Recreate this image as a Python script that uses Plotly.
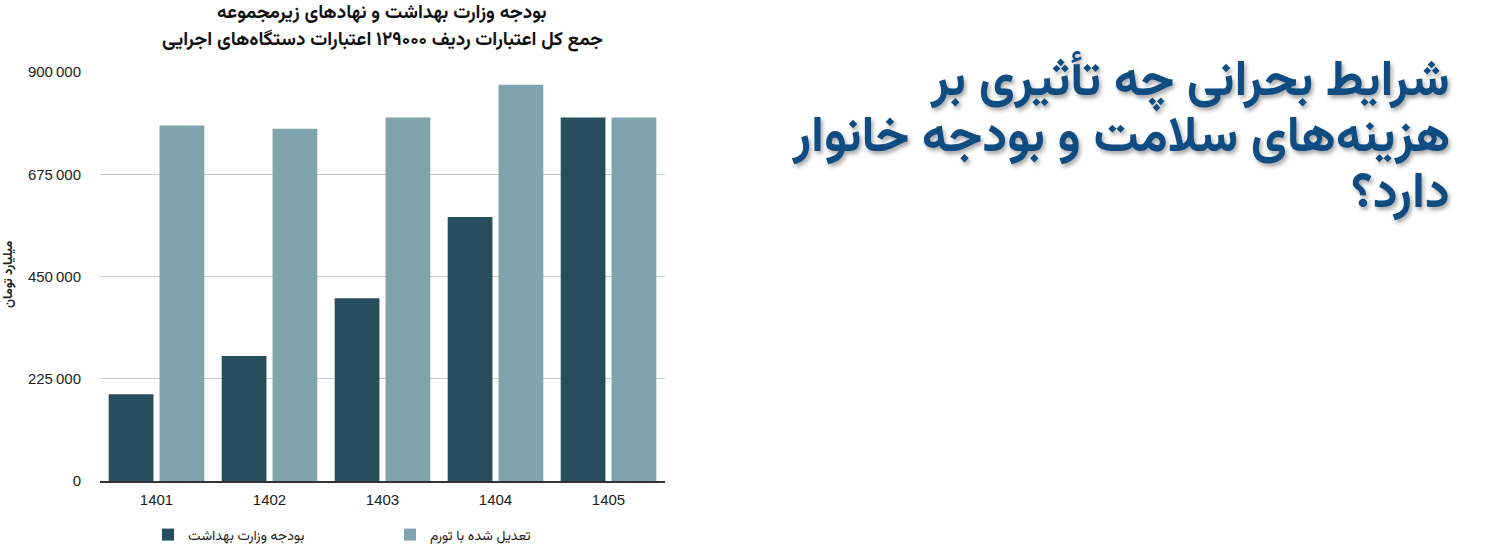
import plotly.graph_objects as go

years = ["1401", "1402", "1403", "1404", "1405"]
budget = [191000, 275000, 402000, 581000, 800000]
adjusted = [782000, 775000, 800000, 872000, 800000]
series_names = ["بودجه وزارت بهداشت", "تعدیل شده با تورم"]
tick_vals = [0, 225000, 450000, 675000, 900000]
tick_text = ["0", "225\u2009000", "450\u2009000", "675\u2009000", "900\u2009000"]
title_lines = ["بودجه وزارت بهداشت و نهادهای زیرمجموعه",
               "جمع کل اعتبارات ردیف ۱۲۹۰۰۰ اعتبارات دستگاه‌های اجرایی"]
y_title = "میلیارد تومان"
headline_lines = ["شرایط بحرانی چه تأثیری بر", "هزینه‌های سلامت و بودجه خانوار", "دارد؟"]

FA = "Vazirmatn, 'Noto Sans Arabic', 'DejaVu Sans', sans-serif"
LAT = "'Liberation Sans', Arial, sans-serif"

W, H = 1500, 550
L, R, T, B = 100, 835, 72, 69
PH = H - T - B


def py(ypix):
    return (H - B - ypix) / PH


def px(xpix):
    return (xpix - L) / (W - L - R)


fig = go.Figure()
fig.add_trace(go.Bar(x=years, y=budget, name=series_names[0], marker_color="#274e5c",
                     marker_line_width=0))
fig.add_trace(go.Bar(x=years, y=adjusted, name=series_names[1], marker_color="#80a4ae",
                     marker_line_width=0))

annotations = []
for txt, yp in zip(title_lines, [13, 40]):
    annotations.append(dict(text=txt, xref="paper", yref="paper", x=px(382), y=py(yp),
                            xanchor="center", yanchor="middle", showarrow=False,
                            font=dict(family=FA, size=19, color="#111", weight="bold")))
for txt, yp in zip(headline_lines, [83, 139, 195]):
    annotations.append(dict(text=txt, xref="paper", yref="paper", x=px(1452), y=py(yp),
                            xanchor="right", yanchor="middle", showarrow=False,
                            font=dict(family=FA, size=50, color="#0f4c81", weight="bold",
                                      shadow="2px 3px 4px rgba(0,0,0,0.35)")))
annotations.append(dict(text=y_title, xref="paper", yref="paper", x=px(9), y=py(275),
                        xanchor="center", yanchor="middle", showarrow=False, textangle=-90,
                        font=dict(family=FA, size=13, color="#222", weight="bold")))

fig.update_layout(
    width=W, height=H,
    margin=dict(l=L, r=R, t=T, b=B, autoexpand=False),
    paper_bgcolor="white", plot_bgcolor="white",
    barmode="group", bargap=0.1, bargroupgap=0.12,
    showlegend=True,
    legend=dict(orientation="h", x=px(148), xanchor="left", y=py(535), yanchor="middle",
                entrywidth=197, entrywidthmode="pixels",
                font=dict(family=FA, size=14, color="#222"), traceorder="normal"),
    annotations=annotations,
)
fig.update_yaxes(range=[0, 900000], tickvals=tick_vals, ticktext=tick_text,
                 showgrid=True, gridcolor="#cccccc", gridwidth=1, zeroline=False,
                 ticks="", ticklabelstandoff=18, automargin=False,
                 tickfont=dict(family=LAT, size=15, color="#222"))
fig.update_xaxes(showline=True, linecolor="#333", linewidth=1.5, ticks="", automargin=False,
                 ticklabelstandoff=4,
                 tickfont=dict(family=LAT, size=15, color="#222"))

fig.write_html("out.html", config={"displayModeBar": False},
               post_script="document.body.style.margin='0';document.body.style.overflow='hidden';")
